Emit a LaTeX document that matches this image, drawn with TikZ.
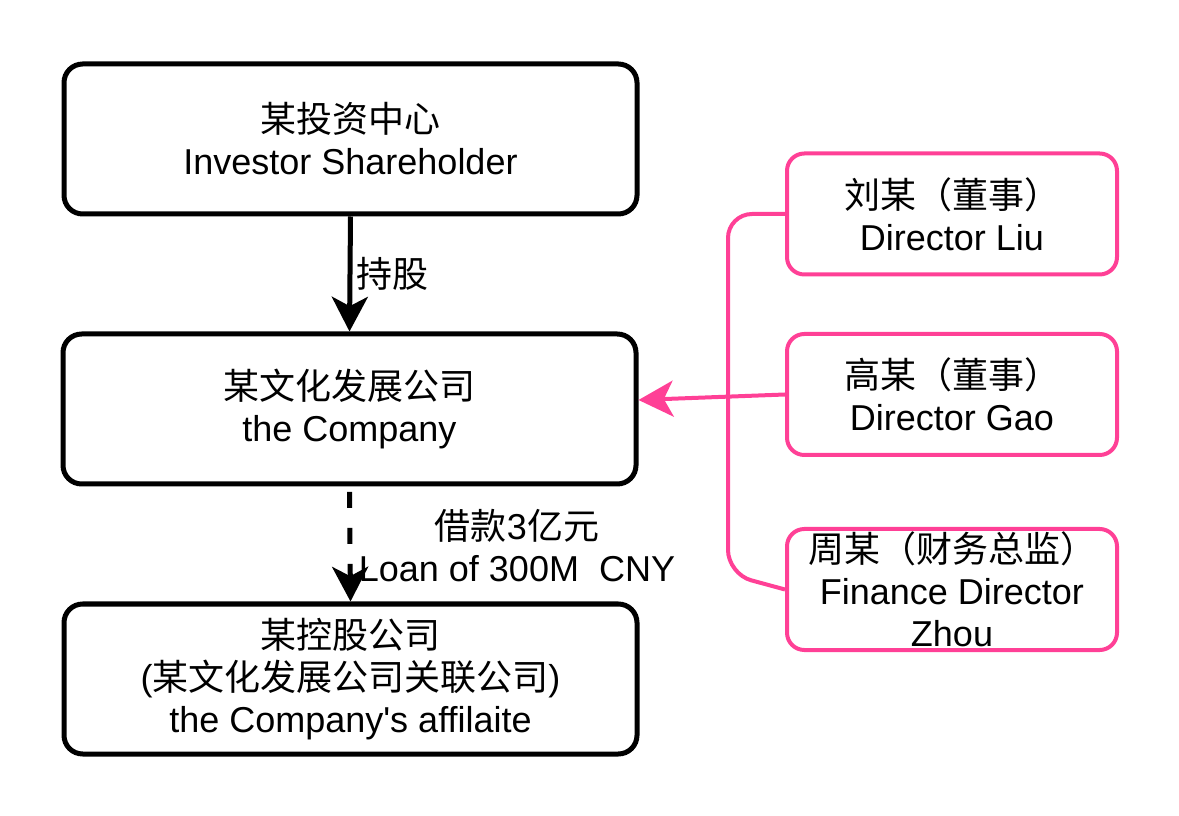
\documentclass[tikz,border=0pt]{standalone}
\usepackage{fontspec}
\setmainfont{Liberation Sans}
\newfontfamily\cjk{Noto Sans CJK SC}
\newcommand\zh[1]{{\cjk #1}}
\usetikzlibrary{arrows.meta}
\definecolor{dirpink}{RGB}{255,64,150}
\begin{document}
\begin{tikzpicture}[x=0.75pt,y=-0.75pt,font=\fontsize{27}{31.5}\selectfont,
  firm/.style={draw,line width=3.75pt,rounded corners=14pt,minimum width=429.75pt,minimum height=112.5pt,inner sep=0pt,align=center},
  dir/.style={draw=dirpink,line width=3pt,rounded corners=13pt,minimum width=247.5pt,minimum height=90.75pt,inner sep=0pt,align=center},
  tip/.style={-{Stealth[length=26pt,width=27pt,inset=7pt]}}]
\useasboundingbox (0,0) rectangle (1179,816);
\node [firm] (inv) at (350.5,139) {\zh{某投资中心}\\Investor Shareholder};
\node [firm] (comp) at (349.5,409) {\zh{某文化发展公司}\\the Company};
\node [firm] (aff) at (350.5,679) {\zh{某控股公司}\\(\zh{某文化发展公司关联公司})\\the Company\textquotesingle s affilaite};
\node [dir] (liu) at (952,214) {\zh{刘某（董事）}\\Director Liu};
\node [dir] (gao) at (952,394.5) {\zh{高某（董事）}\\Director Gao};
\node [dir] (zhou) at (952,589.5) {\zh{周某（财务总监）}\\Finance Director\\Zhou};
\coordinate (bendtop) at (728,214);
\coordinate (bendbot) at (728,574);
\draw [tip,line width=3.75pt] (inv.south) -- (comp.north) node [midway,right] (hold) {\zh{持股}};
\draw [tip,line width=3.75pt,dash pattern=on 12pt off 15pt] ([yshift=-4pt]comp.south) -- (aff.north);
\node [align=center] (loan) at (517,546) {\zh{借款}3\zh{亿元}\\Loan of 300M\ \ CNY};
\draw [tip,dirpink,line width=3pt] (gao.west) -- ([yshift=6.75pt]comp.east);
\draw [dirpink,line width=3pt,rounded corners=18pt] (liu.west) -- (bendtop) -- (bendbot) -- (zhou.west);
\end{tikzpicture}
\end{document}
